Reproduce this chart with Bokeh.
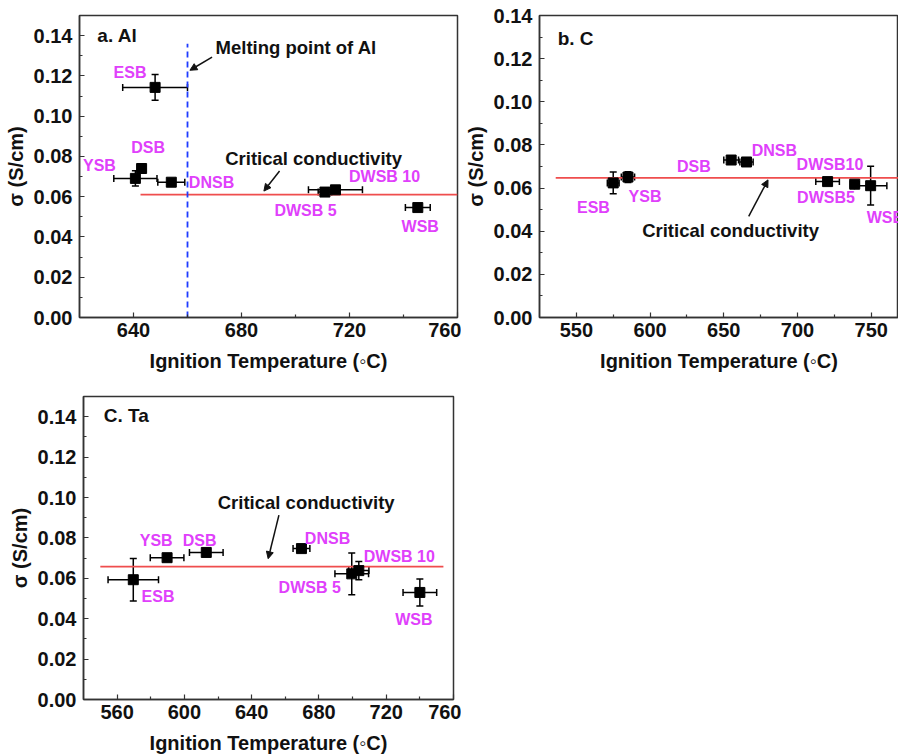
from bokeh.plotting import figure
from bokeh.models import (ColumnDataSource, Whisker, TeeHead, Arrow, NormalHead,
                          FixedTicker, NumeralTickFormatter)
from bokeh.layouts import column, row
from bokeh.embed import file_html
from bokeh.resources import INLINE
from bokeh.core.properties import value

FONT = "Liberation Sans"
MAGENTA = "#e040fb"
RED = "#ef4d4d"

# ---------------- data ----------------
# Panel a: Al
a_names = ["ESB", "DSB", "YSB", "DNSB", "DWSB 5", "DWSB 10", "WSB"]
a_temp = [648, 643, 640.7, 654, 710.9, 714.8, 745.3]
a_temp_err = [12, 1.5, 8, 5, 2.5, 10, 4.6]
a_sigma = [0.1143, 0.0740, 0.0691, 0.0672, 0.0623, 0.0634, 0.0546]
a_sigma_err = [0.0064, 0.0012, 0.0038, 0.0010, 0.0010, 0.0012, 0.0010]
a_critical = 0.061
a_critical_span = [642.6, 760]
a_melting = 660
a_melting_top = 0.136

# Panel b: C
b_names = ["ESB", "YSB", "DSB", "DNSB", "DWSB10", "DWSB5", "WSB"]
b_temp = [575, 585, 655, 665.4, 720.4, 738.8, 749.6]
b_temp_err = [4, 4.5, 5, 4.5, 8, 3, 11]
b_sigma = [0.0624, 0.0651, 0.0730, 0.0721, 0.0630, 0.0618, 0.0611]
b_sigma_err = [0.0050, 0.0025, 0.0012, 0.0015, 0.0010, 0.0010, 0.0090]
b_critical = 0.0647
b_critical_span = [536, 770]

# Panel c: Ta
c_names = ["ESB", "YSB", "DSB", "DNSB", "DWSB 5", "DWSB 10", "WSB"]
c_temp = [569.6, 589.7, 613, 669.6, 699.5, 703.7, 740]
c_temp_err = [15, 10, 10, 5, 10, 6, 10]
c_sigma = [0.0593, 0.0702, 0.0728, 0.0747, 0.0622, 0.0638, 0.0530]
c_sigma_err = [0.0105, 0.0012, 0.0012, 0.0015, 0.0103, 0.0045, 0.0067]
c_critical = 0.0658
c_critical_span = [550, 754]

y_ticks = [0.00, 0.02, 0.04, 0.06, 0.08, 0.10, 0.12, 0.14]
y_minor = [0.01, 0.03, 0.05, 0.07, 0.09, 0.11, 0.13]

# label positions (data units)
a_label_x = [638.7, 645.4, 627.4, 668.9, 703.7, 733, 746.2]
a_label_y = [0.1216, 0.0844, 0.0753, 0.0673, 0.0532, 0.0702, 0.0454]
b_label_x = [561.6, 596.6, 629.7, 684.3, 722, 719.3, 746.9]
b_label_y = [0.0508, 0.0563, 0.0698, 0.0776, 0.0707, 0.0554, 0.0462]
b_label_align = ["center"] * 6 + ["left"]
c_label_x = [584.3, 583.2, 609, 685.1, 674.5, 727.8, 736.4]
c_label_y = [0.0512, 0.0787, 0.0788, 0.0797, 0.0552, 0.0707, 0.0397]


def make_panel(width, height, xr, yr, borders, xticks, xminor):
    p = figure(width=width, height=height, x_range=xr, y_range=yr,
               output_backend="svg", toolbar_location=None,
               min_border_left=borders[0], min_border_right=borders[1],
               min_border_top=borders[2], min_border_bottom=borders[3])
    p.xgrid.visible = False
    p.ygrid.visible = False
    p.outline_line_color = "#333333"
    p.outline_line_width = 1.5
    p.background_fill_color = "white"
    p.border_fill_color = "white"
    for ax in (p.xaxis[0], p.yaxis[0]):
        ax.axis_line_color = "#333333"
        ax.axis_line_width = 1.5
        ax.major_tick_in = 5
        ax.major_tick_out = 0
        ax.minor_tick_in = 3
        ax.minor_tick_out = 0
        ax.major_tick_line_color = "#333333"
        ax.minor_tick_line_color = "#333333"
        ax.major_tick_line_width = 1.2
        ax.minor_tick_line_width = 1.2
        ax.major_label_text_font = FONT
        ax.major_label_text_font_style = "bold"
        ax.major_label_text_font_size = "20px"
        ax.major_label_text_color = "#111111"
        ax.axis_label_text_font = FONT
        ax.axis_label_text_font_style = "bold"
        ax.axis_label_text_font_size = "20px"
        ax.axis_label_text_color = "#111111"
    p.yaxis[0].ticker = FixedTicker(ticks=y_ticks, minor_ticks=y_minor)
    p.yaxis[0].formatter = NumeralTickFormatter(format="0.00")
    p.xaxis[0].ticker = FixedTicker(ticks=xticks, minor_ticks=xminor)
    p.xaxis[0].axis_label = "Ignition Temperature (\u25e6C)"
    p.yaxis[0].axis_label = "\u03c3 (S/cm)"
    p.xaxis[0].major_label_standoff = 5
    p.yaxis[0].major_label_standoff = 7
    p.xaxis[0].axis_label_standoff = 10
    p.yaxis[0].axis_label_standoff = 4
    return p


def add_data(p, names, t, te, s, se, lx, ly, align=None):
    src = ColumnDataSource(dict(
        t=t, s=s,
        tl=[a - b for a, b in zip(t, te)], tu=[a + b for a, b in zip(t, te)],
        sl=[a - b for a, b in zip(s, se)], su=[a + b for a, b in zip(s, se)]))
    p.add_layout(Whisker(source=src, base="s", lower="tl", upper="tu", dimension="width",
                         line_color="black", line_width=1.5,
                         lower_head=TeeHead(size=7, line_color="black", line_width=1.5),
                         upper_head=TeeHead(size=7, line_color="black", line_width=1.5)))
    p.add_layout(Whisker(source=src, base="t", lower="sl", upper="su", dimension="height",
                         line_color="black", line_width=1.5,
                         lower_head=TeeHead(size=7, line_color="black", line_width=1.5),
                         upper_head=TeeHead(size=7, line_color="black", line_width=1.5)))
    p.scatter("t", "s", source=src, marker="square", size=10, color="black")
    lsrc = ColumnDataSource(dict(x=lx, y=ly, text=names,
                                 align=align if align else ["center"] * len(names)))
    p.text("x", "y", text="text", source=lsrc, text_align="align", text_baseline="middle",
           text_font=value(FONT), text_font_style="bold", text_font_size="16px",
           text_color=MAGENTA)


def add_text(p, x, y, txt, align="left", size="18.5px"):
    p.text([x], [y], text=[txt], text_align=align, text_baseline="middle",
           text_font=value(FONT), text_font_style="bold", text_font_size=size,
           text_color="#111111")


def add_arrow(p, x0, y0, x1, y1):
    p.add_layout(Arrow(x_start=x0, y_start=y0, x_end=x1, y_end=y1,
                       line_color="#111111", line_width=1.5,
                       end=NormalHead(size=7, fill_color="#111111", line_color="#111111")))


# ---------------- panel a ----------------
pa = make_panel(461, 380, (620, 760), (0, 0.15), (79, 4, 14, 59),
                [640, 680, 720, 760], [660, 700, 740])
pa.line(a_critical_span, [a_critical, a_critical], line_color=RED, line_width=1.8)
pa.line([a_melting, a_melting], [0, a_melting_top], line_color="#1f3cff",
        line_width=1.8, line_dash="6 4")
add_data(pa, a_names, a_temp, a_temp_err, a_sigma, a_sigma_err, a_label_x, a_label_y)
add_text(pa, 626.6, 0.1403, "a. Al", size="19px")
add_text(pa, 670.4, 0.1341, "Melting point of Al")
add_text(pa, 706.7, 0.0790, "Critical conductivity", align="center")
add_arrow(pa, 669.1, 0.1293, 660.9, 0.1228)
add_arrow(pa, 694.1, 0.0728, 688.3, 0.0628)

# ---------------- panel b ----------------
pb = make_panel(437, 380, (525, 768.5), (0, 0.14), (76, 0, 15, 63),
                [550, 600, 650, 700, 750], [575, 625, 675, 725])
pb.line(b_critical_span, [b_critical, b_critical], line_color=RED, line_width=1.8)
add_data(pb, b_names, b_temp, b_temp_err, b_sigma, b_sigma_err, b_label_x, b_label_y,
         align=b_label_align)
add_text(pb, 537.3, 0.1292, "b. C", size="19px")
add_text(pb, 654.6, 0.0401, "Critical conductivity", align="center")
add_arrow(pb, 666.9, 0.0469, 680.0, 0.0638)

# ---------------- panel c ----------------
pc = make_panel(461, 376, (540, 760), (0, 0.15), (83, 8, 16, 57),
                [560, 600, 640, 680, 720, 760], [580, 620, 660, 700, 740])
pc.line(c_critical_span, [c_critical, c_critical], line_color=RED, line_width=1.8)
add_data(pc, c_names, c_temp, c_temp_err, c_sigma, c_sigma_err, c_label_x, c_label_y)
add_text(pc, 552, 0.1408, "C. Ta", size="19px")
add_text(pc, 672.4, 0.0977, "Critical conductivity", align="center")
add_arrow(pc, 656.2, 0.0913, 649.8, 0.0697)

layout = column(row(pa, pb), pc)
open("out.html", "w").write(file_html(layout, INLINE))
